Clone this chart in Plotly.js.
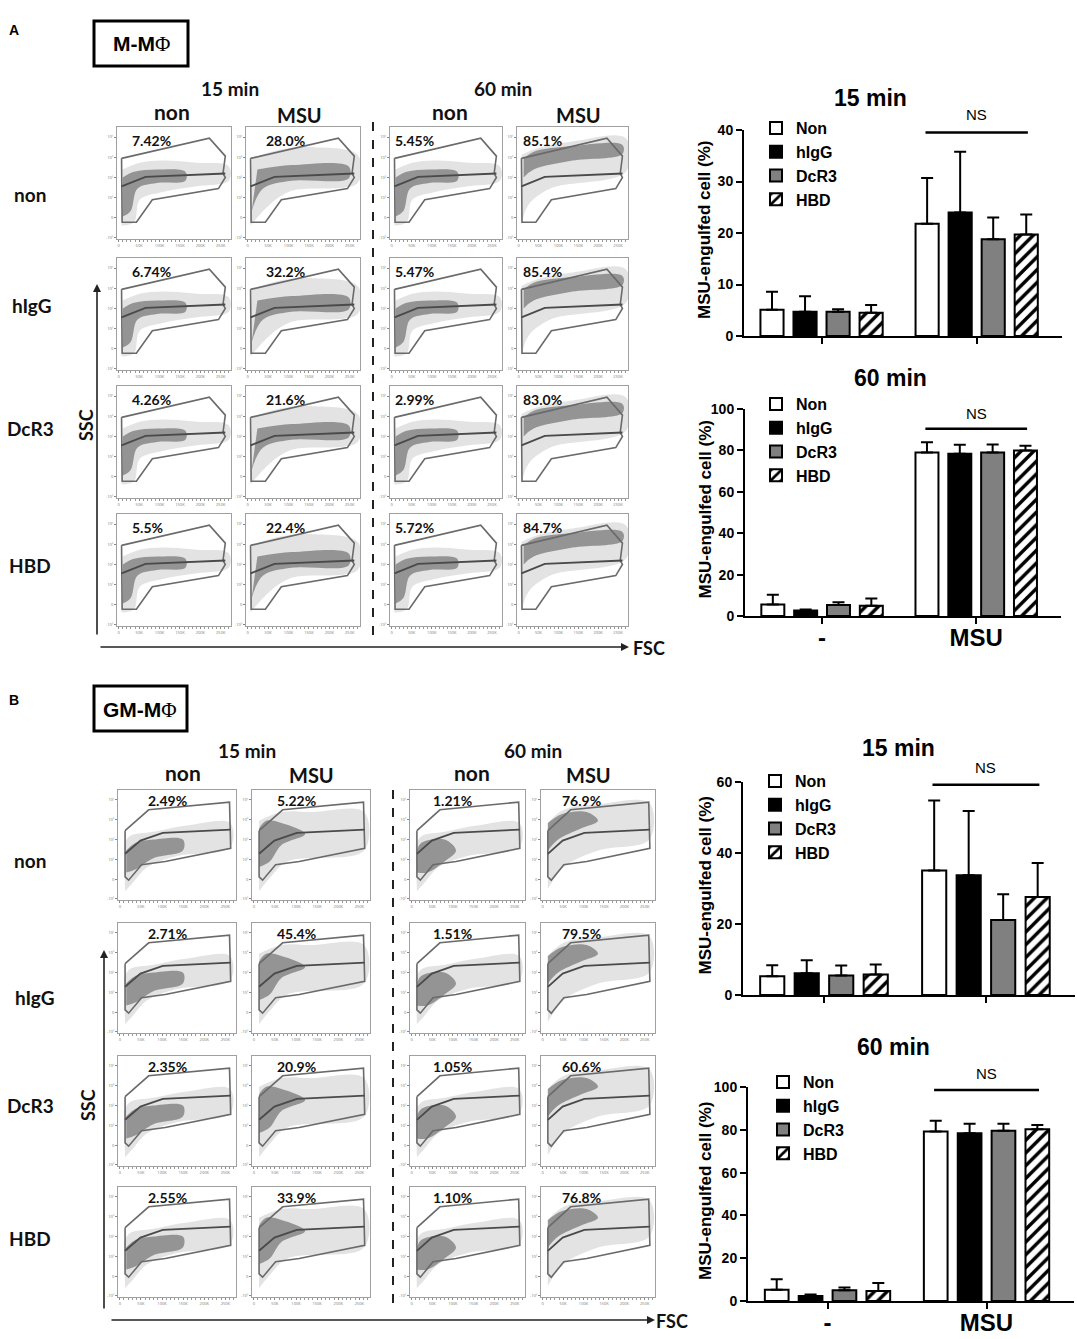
<!DOCTYPE html>
<html><head><meta charset="utf-8">
<script src="https://cdn.plot.ly/plotly-3.0.1.min.js"></script>
<style>body{margin:0;background:#fff}#c{width:1077px;height:1339px}</style>
</head><body><div id="c"></div>
<script>
// ---------------- data: bar charts ----------------
const groups = ['-', 'MSU'];
const treatments = ['Non', 'hIgG', 'DcR3', 'HBD'];
// rows = treatment, columns = group ('-', 'MSU')
const a15Mean = [[5.1, 21.8], [4.7, 24.0], [4.7, 18.8], [4.5, 19.7]];
const a15Top  = [[8.6, 30.7], [7.7, 35.8], [5.2, 23.0], [6.0, 23.6]];
const a60Mean = [[5.6, 79.0], [2.6, 78.4], [5.3, 79.0], [5.0, 80.0]];
const a60Top  = [[10.3, 83.9], [3.2, 82.7], [6.6, 82.9], [8.4, 82.3]];
const b15Mean = [[5.3, 35.1], [6.1, 33.7], [5.5, 21.1], [5.8, 27.6]];
const b15Top  = [[8.4, 54.8], [9.8, 51.8], [8.3, 28.4], [8.6, 37.2]];
const b60Mean = [[5.3, 79.2], [2.3, 78.4], [5.0, 79.5], [4.7, 80.3]];
const b60Top  = [[10.2, 84.2], [3.0, 82.8], [6.3, 82.8], [8.4, 82.3]];
const nsLevel = [39.5, 90.4, 59.2, 98.6];
const nsTextLevel = [43, 98, 64.2, 106.5];
const chartTitles = ['15 min', '60 min', '15 min', '60 min'];

// ---------------- data: flow cytometry ----------------
const timeLabels = ['15 min', '60 min'];
const stimLabels = ['non', 'MSU', 'non', 'MSU'];
const rowLabels = ['non', 'hIgG', 'DcR3', 'HBD'];
const pctA = [['7.42%', '28.0%', '5.45%', '85.1%'],
              ['6.74%', '32.2%', '5.47%', '85.4%'],
              ['4.26%', '21.6%', '2.99%', '83.0%'],
              ['5.5%',  '22.4%', '5.72%', '84.7%']];
const pctB = [['2.49%', '5.22%', '1.21%', '76.9%'],
              ['2.71%', '45.4%', '1.51%', '79.5%'],
              ['2.35%', '20.9%', '1.05%', '60.6%'],
              ['2.55%', '33.9%', '1.10%', '76.8%']];
const fscTickText = ['0', '50K', '100K', '150K', '200K', '250K'];
const fscTickPos = [0.015, 0.194, 0.373, 0.552, 0.731, 0.91];
const sscTickText = ['-10²', '0', '10²', '10³', '10⁴', '10⁵'];
const sscTickPos = [0.015, 0.19, 0.37, 0.55, 0.73, 0.91];

// gates (normalised FSC / SSC)
const gateAx  = [0.04, 0.81, 0.95, 0.93, 0.95, 0.89, 0.31, 0.17, 0.045, 0.04];
const gateAy  = [0.72, 0.90, 0.74, 0.585, 0.55, 0.45, 0.35, 0.15, 0.15, 0.72];
const splitAx = [0.04, 0.25, 0.95];
const splitAy = [0.47, 0.555, 0.585];
const gateBx  = [0.06, 0.26, 0.945, 0.955, 0.40, 0.20, 0.09, 0.06, 0.06];
const gateBy  = [0.63, 0.82, 0.89, 0.47, 0.35, 0.32, 0.18, 0.21, 0.63];
const splitBx = [0.06, 0.19, 0.38, 0.955];
const splitBy = [0.42, 0.54, 0.61, 0.64];

// population envelopes (outer cloud / dense core)
const cloudAlowX = [0.04, 0.15, 0.20, 0.40, 0.70, 0.98, 0.98, 0.70, 0.40, 0.20, 0.05];
const cloudAlowY = [0.12, 0.15, 0.35, 0.42, 0.47, 0.52, 0.65, 0.68, 0.70, 0.68, 0.62];
const coreAlowX  = [0.05, 0.12, 0.18, 0.35, 0.60, 0.60, 0.35, 0.15, 0.05];
const coreAlowY  = [0.20, 0.25, 0.45, 0.50, 0.52, 0.60, 0.62, 0.60, 0.55];
const cloudAm15X = [0.04, 0.20, 0.40, 0.98, 0.98, 0.60, 0.30, 0.05];
const cloudAm15Y = [0.12, 0.30, 0.43, 0.50, 0.75, 0.82, 0.80, 0.72];
const coreAm15X  = [0.05, 0.15, 0.40, 0.90, 0.90, 0.40, 0.10];
const coreAm15Y  = [0.25, 0.45, 0.52, 0.54, 0.65, 0.66, 0.62];
const cloudAm60X = [0.04, 0.10, 0.30, 0.98, 0.98, 0.50, 0.15, 0.04];
const cloudAm60Y = [0.12, 0.30, 0.45, 0.60, 0.90, 0.87, 0.80, 0.75];
const coreAm60X  = [0.06, 0.15, 0.50, 0.95, 0.95, 0.50, 0.15, 0.06];
const coreAm60Y  = [0.55, 0.62, 0.70, 0.76, 0.84, 0.83, 0.78, 0.72];
const cloudBlowX = [0.06, 0.12, 0.25, 0.50, 0.95, 0.95, 0.60, 0.30, 0.10, 0.05];
const cloudBlowY = [0.08, 0.15, 0.30, 0.40, 0.48, 0.70, 0.68, 0.62, 0.58, 0.50];
const coreBlowX  = [0.07, 0.15, 0.30, 0.55, 0.55, 0.30, 0.15, 0.07];
const coreBlowY  = [0.25, 0.28, 0.38, 0.45, 0.55, 0.55, 0.52, 0.45];
const cloudBm15X = [0.06, 0.15, 0.30, 0.95, 0.95, 0.50, 0.25, 0.06];
const cloudBm15Y = [0.08, 0.20, 0.35, 0.45, 0.80, 0.80, 0.80, 0.72];
const coreBm15X  = [0.06, 0.15, 0.25, 0.45, 0.25, 0.12, 0.06];
const coreBm15Y  = [0.30, 0.35, 0.50, 0.60, 0.70, 0.72, 0.65];
const coreBl60X  = [0.06, 0.15, 0.30, 0.40, 0.30, 0.10, 0.06];
const coreBl60Y  = [0.25, 0.25, 0.35, 0.45, 0.55, 0.52, 0.45];
const cloudBm60X = [0.06, 0.20, 0.50, 0.95, 0.95, 0.50, 0.20, 0.06];
const cloudBm60Y = [0.10, 0.30, 0.45, 0.55, 0.88, 0.87, 0.82, 0.70];
const coreBm60X  = [0.06, 0.15, 0.35, 0.50, 0.40, 0.18, 0.06];
const coreBm60Y  = [0.45, 0.55, 0.65, 0.72, 0.80, 0.78, 0.70];

// ---------------- helpers ----------------
const W = 1077, H = 1339;
const px = x => x / W, py = y => 1 - y / H;
const flowFont = 'Lato, "Open Sans", sans-serif';
const barFont = '"Liberation Sans", Arial, sans-serif';
const traces = [], annotations = [], shapes = [];
const layout = {
  width: W, height: H, margin: {l: 0, r: 0, t: 0, b: 0},
  paper_bgcolor: '#fff', plot_bgcolor: 'rgba(0,0,0,0)',
  barmode: 'group', bargap: 0.148, bargroupgap: 0.3,
  showlegend: true, annotations, shapes
};
function ann(text, x, y, size, extra) {
  annotations.push(Object.assign({text, x: px(x), y: py(y), xref: 'paper', yref: 'paper',
    xanchor: 'center', yanchor: 'middle',
    showarrow: false, font: {family: flowFont, size, color: '#111', weight: 'bold'}}, extra || {}));
}
const ids = n => ({xk: n === 1 ? 'xaxis' : 'xaxis' + n, yk: n === 1 ? 'yaxis' : 'yaxis' + n,
                   x: n === 1 ? 'x' : 'x' + n, y: n === 1 ? 'y' : 'y' + n});

// ---------------- flow cytometry panels ----------------
const patterns = {
  Alow: [cloudAlowX, cloudAlowY, coreAlowX, coreAlowY],
  Am15: [cloudAm15X, cloudAm15Y, coreAm15X, coreAm15Y],
  Am60: [cloudAm60X, cloudAm60Y, coreAm60X, coreAm60Y],
  Blow: [cloudBlowX, cloudBlowY, coreBlowX, coreBlowY],
  Bm15: [cloudBm15X, cloudBm15Y, coreBm15X, coreBm15Y],
  Bl60: [cloudBlowX, cloudBlowY, coreBl60X, coreBl60Y],
  Bm60: [cloudBm60X, cloudBm60Y, coreBm60X, coreBm60Y]
};
const panels = [
  {pct: pctA, cols: [[117, 231], [246, 360], [390, 502], [517, 628]], rows: [127, 258, 386, 514], h: 112,
   pat: ['Alow', 'Am15', 'Alow', 'Am60'], gx: gateAx, gy: gateAy, sx: splitAx, sy: splitAy,
   pctOff: [13, 18, 3, 4], pctDy: 3},
  {pct: pctB, cols: [[118, 236], [252, 370], [410, 525], [541, 655]], rows: [790, 923, 1056, 1187], h: 110,
   pat: ['Blow', 'Bm15', 'Bl60', 'Bm60'], gx: gateBx, gy: gateBy, sx: splitBx, sy: splitBy,
   pctOff: [28, 23, 21, 19], pctDy: 0}
];
let n = 1;
panels.forEach(P => {
  P.rows.forEach((top, r) => {
    P.cols.forEach((cx, c) => {
      const id = ids(n);
      layout[id.xk] = {domain: [px(cx[0]), px(cx[1])], anchor: id.y, range: [0, 1], showgrid: false, zeroline: false,
        showline: true, mirror: true, linecolor: '#a0a0a0', linewidth: 1, tickmode: 'array',
        tickvals: fscTickPos, ticktext: fscTickText, ticks: 'outside', ticklen: 2, tickcolor: '#888',
        tickfont: {size: 4, color: '#777'}, fixedrange: true,
        minor: {tickmode: 'linear', tick0: 0.015, dtick: 0.0358, ticks: 'outside', ticklen: 1.5, tickcolor: '#999'}};
      layout[id.yk] = {domain: [py(top + P.h), py(top)], anchor: id.x, range: [0, 1], showgrid: false, zeroline: false,
        showline: true, mirror: true, linecolor: '#a0a0a0', linewidth: 1, tickmode: 'array',
        tickvals: sscTickPos, ticktext: sscTickText, ticks: 'outside', ticklen: 2, tickcolor: '#888',
        tickfont: {size: 4, color: '#777'}, fixedrange: true};
      const pt = patterns[P.pat[c]];
      traces.push({type: 'scatter', mode: 'lines', x: pt[0], y: pt[1], fill: 'toself',
        fillcolor: 'rgba(70,70,70,0.15)', line: {width: 0, shape: 'spline'}, xaxis: id.x, yaxis: id.y,
        showlegend: false, hoverinfo: 'skip'});
      traces.push({type: 'scatter', mode: 'lines', x: pt[2], y: pt[3], fill: 'toself',
        fillcolor: 'rgba(30,30,30,0.40)', line: {width: 0, shape: 'spline'}, xaxis: id.x, yaxis: id.y,
        showlegend: false, hoverinfo: 'skip'});
      traces.push({type: 'scatter', mode: 'lines', x: P.gx, y: P.gy, line: {color: '#6a6a6a', width: 1.6},
        xaxis: id.x, yaxis: id.y, showlegend: false, hoverinfo: 'skip'});
      traces.push({type: 'scatter', mode: 'lines', x: P.sx, y: P.sy, line: {color: '#4a4a4a', width: 1.8},
        xaxis: id.x, yaxis: id.y, showlegend: false, hoverinfo: 'skip'});
      ann(P.pct[r][c], cx[0] + P.pctOff[c], top + P.pctDy, 14, {xanchor: 'left', yanchor: 'top'});
      n++;
    });
  });
});

// panel labels & headers
ann('A', 14, 30, 14, {font: {family: barFont, size: 14, weight: 'bold', color: '#000'}});
ann('B', 14, 700, 14, {font: {family: barFont, size: 14, weight: 'bold', color: '#000'}});
shapes.push({type: 'rect', xref: 'paper', yref: 'paper', x0: px(94), x1: px(188), y0: py(66), y1: py(21), line: {color: '#000', width: 3}});
shapes.push({type: 'rect', xref: 'paper', yref: 'paper', x0: px(94), x1: px(187), y0: py(731), y1: py(686), line: {color: '#000', width: 3}});
ann('M-M<span style="font-family:\'Liberation Serif\',serif;font-weight:normal">Φ</span>', 141, 44, 21,
    {font: {family: barFont, size: 21, weight: 'bold', color: '#000'}});
ann('GM-M<span style="font-family:\'Liberation Serif\',serif;font-weight:normal">Φ</span>', 140, 710, 21,
    {font: {family: barFont, size: 21, weight: 'bold', color: '#000'}});

const headA = {time: [[230, 88], [503, 88]], stim: [[172, 112], [299, 115], [450, 112], [578, 115]],
               row: [[30, 195], [32, 305], [30, 428], [30, 565]]};
const headB = {time: [[247, 750], [533, 750]], stim: [[183, 773], [311, 775], [472, 773], [588, 775]],
               row: [[30, 860], [35, 998], [30, 1105], [30, 1238]]};
[headA, headB].forEach(hd => {
  hd.time.forEach((p, i) => ann(timeLabels[i], p[0], p[1], 19));
  hd.stim.forEach((p, i) => ann(stimLabels[i], p[0], p[1], stimLabels[i] === 'non' ? 21 : 20));
  hd.row.forEach((p, i) => ann(rowLabels[i], p[0], p[1], 19));
});
// SSC / FSC arrows
ann('SSC', 86, 425, 18, {textangle: -90});
ann('SSC', 88, 1105, 18, {textangle: -90});
ann('FSC', 649, 648, 18);
ann('FSC', 672, 1321, 18);
const arrow = (x, y, ax, ay) => annotations.push({text: '', x: px(x), y: py(y), xref: 'paper', yref: 'paper',
  showarrow: true, ax, ay, arrowhead: 2, arrowsize: 1, arrowwidth: 1.6, arrowcolor: '#222'});
arrow(97, 284, 0, 352);
arrow(629, 647, -530, 0);
arrow(104, 950, 0, 360);
arrow(655, 1320, -545, 0);
// dashed separators
shapes.push({type: 'line', xref: 'paper', yref: 'paper', x0: px(373), x1: px(373), y0: py(122), y1: py(636), line: {color: '#222', width: 2, dash: 'dash'}});
shapes.push({type: 'line', xref: 'paper', yref: 'paper', x0: px(393), x1: px(393), y0: py(790), y1: py(1310), line: {color: '#222', width: 2, dash: 'dash'}});

// ---------------- bar charts ----------------
const fills = ['#ffffff', '#000000', '#808080', '#ffffff'];
const charts = [
  {mean: a15Mean, top: a15Top, xd: [744, 1062], yd: [130, 336], range: [0, 40], dtick: 10, labels: false, leg: [756, 111], tt: [870, 98]},
  {mean: a60Mean, top: a60Top, xd: [745, 1061], yd: [409, 616], range: [0, 100], dtick: 20, labels: true, leg: [756, 387], tt: [890, 378]},
  {mean: b15Mean, top: b15Top, xd: [743, 1075], yd: [782, 995], range: [0, 60], dtick: 20, labels: false, leg: [755, 764], tt: [898, 748]},
  {mean: b60Mean, top: b60Top, xd: [748, 1074], yd: [1087, 1301], range: [0, 100], dtick: 20, labels: true, leg: [763, 1065], tt: [893, 1047]}
];
charts.forEach((C, k) => {
  const id = ids(n);
  const legName = k === 0 ? 'legend' : 'legend' + (k + 1);
  layout[id.xk] = {domain: [px(C.xd[0]), px(C.xd[1])], anchor: id.y, type: 'category', range: [-0.5, 1.55],
    showline: true, linecolor: '#000', linewidth: 2, ticks: 'outside', ticklen: 6, tickwidth: 2, tickcolor: '#000',
    showgrid: false, zeroline: false, showticklabels: C.labels, fixedrange: true, ticklabelstandoff: -7,
    tickfont: {family: barFont, size: 24, weight: 'bold', color: '#000'}};
  layout[id.yk] = {domain: [py(C.yd[1]), py(C.yd[0])], anchor: id.x, range: C.range, dtick: C.dtick, tick0: 0,
    showline: true, linecolor: '#000', linewidth: 2, ticks: 'outside', ticklen: 6, tickwidth: 2, tickcolor: '#000',
    showgrid: false, zeroline: false, fixedrange: true,
    tickfont: {family: barFont, size: 14, weight: 'bold', color: '#000'}};
  layout[legName] = {x: px(C.leg[0]), y: py(C.leg[1]), xanchor: 'left', yanchor: 'top', bgcolor: 'rgba(0,0,0,0)',
    font: {family: barFont, size: 16, weight: 'bold', color: '#000'}, traceorder: 'normal'};
  treatments.forEach((t, i) => {
    const marker = {color: fills[i], line: {color: '#000', width: 2}};
    if (i === 3) marker.pattern = {shape: '/', fgcolor: '#000', bgcolor: '#fff', size: 9, solidity: 0.38};
    traces.push({type: 'bar', x: groups, y: C.mean[i], name: t, xaxis: id.x, yaxis: id.y, legend: legName,
      marker, hoverinfo: 'skip',
      error_y: {type: 'data', symmetric: false, array: C.top[i].map((v, j) => v - C.mean[i][j]),
        arrayminus: C.mean[i].map(() => 0), color: '#000', thickness: 2, width: 6}});
  });
  shapes.push({type: 'line', xref: id.x, yref: id.y, x0: 0.67, x1: 1.33, y0: nsLevel[k], y1: nsLevel[k],
    line: {color: '#000', width: 2.5}});
  // NS text: position from the axis scale, placed in paper space (data annotations outside range are hidden)
  const xCenterPx = C.xd[0] + (1 + 0.5) / 2.05 * (C.xd[1] - C.xd[0]);
  const yPx = C.yd[1] - (nsTextLevel[k] - C.range[0]) / (C.range[1] - C.range[0]) * (C.yd[1] - C.yd[0]);
  ann('NS', xCenterPx, yPx, 15, {font: {family: barFont, size: 15, color: '#000'}});
  ann(chartTitles[k], C.tt[0], C.tt[1], 23, {font: {family: barFont, size: 23, weight: 'bold', color: '#000'}});
  ann('MSU-engulfed cell (%)', 705, (C.yd[0] + C.yd[1]) / 2 - 3, 17,
      {textangle: -90, font: {family: barFont, size: 17, weight: 'bold', color: '#000'}});
  n++;
});

Plotly.newPlot('c', traces, layout, {staticPlot: true, displayModeBar: false});
</script></body></html>
